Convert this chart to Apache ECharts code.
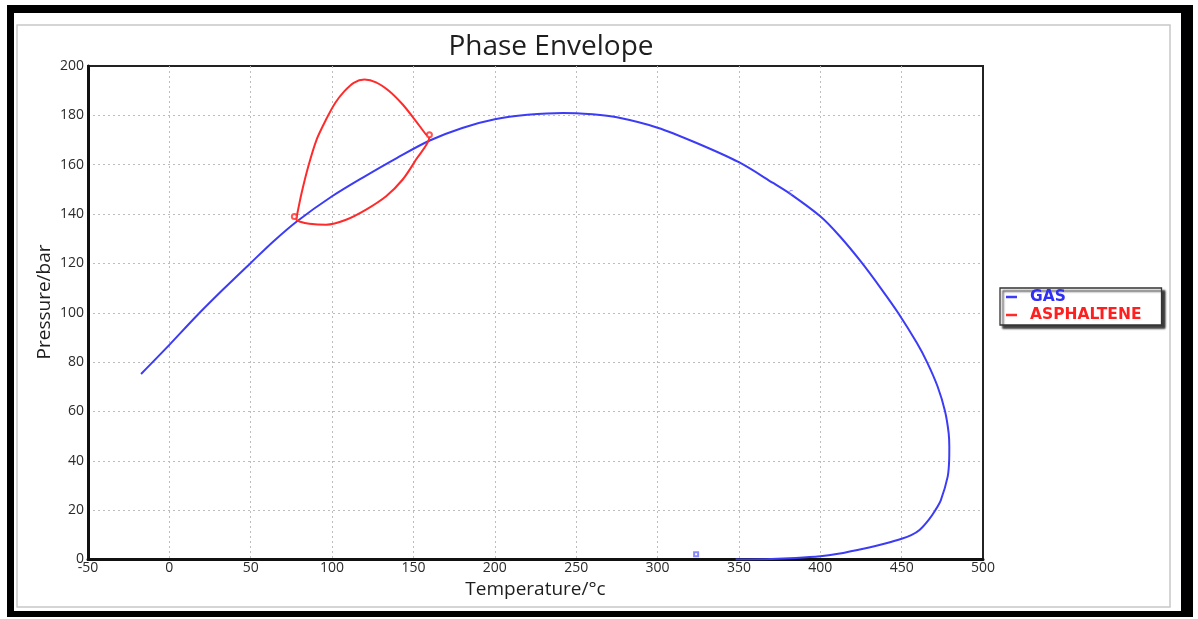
<!DOCTYPE html>
<html>
<head>
<meta charset="utf-8">
<title>Phase Envelope</title>
<script src="https://cdn.jsdelivr.net/npm/echarts@6/dist/echarts.min.js"></script>
<style>
  html, body { margin: 0; padding: 0; background: #fff; }
  #chart { width: 1198px; height: 619px; }
</style>
</head>
<body>
<div id="chart"></div>
<script>
// Gas phase boundary: [temperature °C, pressure bar], traced from bubble side to dew side
const gasCurve = [
  [-17.4, 75.2], [0, 87], [16.4, 98.5], [32.8, 109.3], [50, 120.2], [63.9, 128.9],
  [78.3, 137], [100, 147.2], [119.4, 155], [140, 162.8], [160, 169.8], [180, 174.9],
  [200, 178.4], [220, 180.2], [242, 181], [260, 180.4], [275, 179.2], [300, 175],
  [324, 168.8], [350, 161], [371, 152.6], [382, 148], [400, 139.1], [412, 131],
  [425.6, 120.2], [437.9, 109.3], [447.9, 99.9], [459.4, 87.7], [465.6, 80], [472.1, 70.1],
  [476.7, 60], [478.9, 51.2], [479.3, 45.6], [479.2, 40.1], [478.3, 33.6], [474.1, 24.1],
  [470.8, 20.1], [466.5, 16], [461, 12], [455.9, 9.9], [450, 8.4], [440.5, 6.6],
  [430, 4.9], [410, 2.2], [400, 1.3], [385, 0.6], [370, 0.2], [348, 0]
];

// Asphaltene onset envelope: closed loop, upper branch then lower branch
const asphalteneCurve = [
  [77.9, 137.7], [81.3, 148.6], [85.4, 159.4], [90.5, 170.2], [96.3, 178.3], [102, 185.1],
  [107.6, 189.8], [113.3, 193.2], [119.9, 194.5], [127, 193.4], [135.2, 189.8],
  [143.4, 184.4], [151.6, 177.6], [157.8, 172.2], [159.8, 171.2], [151.6, 162.1],
  [143.4, 154], [133.2, 147.2], [120.9, 141.8], [108.6, 137.7], [96.3, 135.7],
  [86, 136.1], [79.9, 137], [77.9, 137.7]
];

// Branch end points of the asphaltene loop
const asphalteneEnds = [[76.8, 139], [159.8, 172.1]];
// Special points on the gas envelope
const gasPointD = [[323.7, 2.1]];
const gasPointC = [[382, 148.6]];

const xTicks = { min: -50, max: 500, interval: 50 };
const yTicks = { min: 0, max: 200, interval: 20 };

const BLUE = '#3c3cf6';
const RED = '#ff2b2b';
const FONT = '"Open Sans", "Noto Sans", sans-serif';

const chart = echarts.init(document.getElementById('chart'), null, { renderer: 'canvas' });

chart.setOption({
  animation: false,
  backgroundColor: '#ffffff',
  textStyle: { fontFamily: FONT },
  graphic: [
    // outer black frame
    { type: 'rect', shape: { x: 7, y: 5, width: 1186, height: 612 }, style: { fill: '#000' }, z: -10, silent: true },
    { type: 'rect', shape: { x: 14, y: 13, width: 1167, height: 598 }, style: { fill: '#fff' }, z: -9, silent: true },
    // inner light panel border
    { type: 'rect', shape: { x: 17, y: 25, width: 1153, height: 582 }, style: { fill: '#fff', stroke: '#c8c8c8', lineWidth: 1.5 }, z: -8, silent: true },
    // chart title
    {
      type: 'text', x: 551, y: 47, z: 5,
      style: { text: 'Phase Envelope', fill: '#1e1e1e', font: '28px ' + FONT, align: 'center', verticalAlign: 'middle' }
    },
    // y axis title
    {
      type: 'text', x: 45, y: 302, rotation: Math.PI / 2, z: 5,
      style: { text: 'Pressure/bar', fill: '#1e1e1e', font: '19px ' + FONT, align: 'center', verticalAlign: 'middle' }
    }
  ],
  legend: {
    orient: 'vertical',
    left: 1000, top: 288,
    data: [
      { name: 'GAS', textStyle: { color: '#2f2ff5' } },
      { name: 'ASPHALTENE', textStyle: { color: '#ff1f1f' } }
    ],
    icon: 'rect',
    itemWidth: 11, itemHeight: 2.5, itemGap: 2,
    padding: [1, 20, 2, 6],
    backgroundColor: '#ffffff',
    borderColor: '#333', borderWidth: 1.3,
    shadowColor: 'rgba(0,0,0,0.75)', shadowBlur: 2, shadowOffsetX: 3, shadowOffsetY: 3,
    textStyle: { fontSize: 15.5, fontWeight: 'bold', fontFamily: '"DejaVu Sans", sans-serif', padding: [0, 0, 0, 8] }
  },
  grid: {
    left: 88, right: 215, top: 66, bottom: 59.5,
    show: true, borderColor: '#222', borderWidth: 2, backgroundColor: '#fff'
  },
  xAxis: {
    type: 'value',
    min: xTicks.min, max: xTicks.max, interval: xTicks.interval,
    name: 'Temperature/°c', nameLocation: 'middle', nameGap: 14,
    nameTextStyle: { fontSize: 19, color: '#1e1e1e', fontFamily: FONT },
    axisLine: { show: true, onZero: false, lineStyle: { color: '#111', width: 3 } },
    axisTick: { show: false },
    axisLabel: { color: '#2a2a2a', fontSize: 14, margin: 2, fontFamily: FONT },
    splitLine: { show: true, showMinLine: false, showMaxLine: false, lineStyle: { color: '#bdbdbd', type: [2, 3], width: 1 } }
  },
  yAxis: {
    type: 'value',
    min: yTicks.min, max: yTicks.max, interval: yTicks.interval,
    axisLine: { show: true, onZero: false, lineStyle: { color: '#111', width: 3 } },
    axisTick: { show: false },
    axisLabel: { color: '#2a2a2a', fontSize: 14, margin: 4, fontFamily: FONT },
    splitLine: { show: true, showMinLine: false, showMaxLine: false, lineStyle: { color: '#bdbdbd', type: [2, 3], width: 1 } }
  },
  series: [
    {
      name: 'GAS', type: 'line', data: gasCurve,
      smooth: 0.3, smoothMonotone: 'none', showSymbol: false, symbol: 'none',
      lineStyle: { color: BLUE, width: 2 }, itemStyle: { color: BLUE }, z: 3
    },
    {
      name: 'ASPHALTENE', type: 'line', data: asphalteneCurve,
      smooth: 0.3, smoothMonotone: 'none', showSymbol: false, symbol: 'none',
      lineStyle: { color: RED, width: 2 }, itemStyle: { color: RED }, z: 4
    },
    {
      name: 'asphaltene-ends', type: 'scatter', data: asphalteneEnds,
      symbol: 'emptyCircle', symbolSize: 5,
      itemStyle: { color: RED, borderColor: RED, borderWidth: 1 }, z: 5
    },
    {
      name: 'gas-d', type: 'scatter', data: gasPointD,
      symbol: 'emptyRect', symbolSize: 4,
      itemStyle: { color: '#6a6aff', borderColor: '#6a6aff', borderWidth: 1 }, z: 5
    },
    {
      name: 'gas-c', type: 'scatter', data: gasPointC,
      symbol: 'circle', symbolSize: 0,
      label: { show: true, formatter: 'c', position: 'inside', color: '#6a6aff', fontSize: 9, fontFamily: FONT },
      z: 5
    }
  ]
});
</script>
</body>
</html>
